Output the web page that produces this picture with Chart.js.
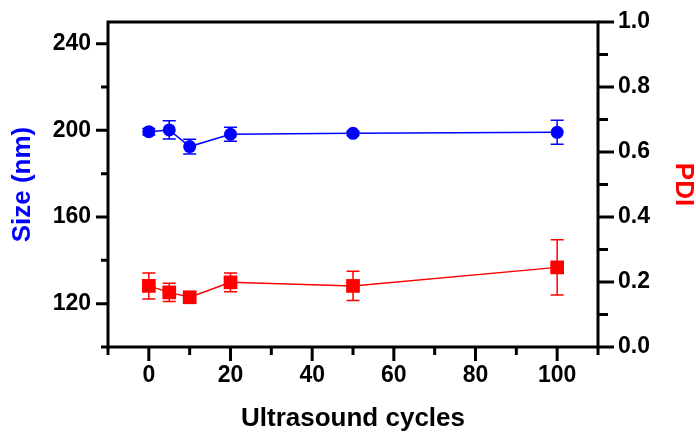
<!DOCTYPE html>
<html>
<head>
<meta charset="utf-8">
<script src="https://cdn.jsdelivr.net/npm/chart.js@4/dist/chart.umd.min.js"></script>
<style>
  html, body { margin: 0; padding: 0; background: #fff; }
  #c { display: block; }
</style>
</head>
<body>
<canvas id="c" width="696" height="434"></canvas>
<script>
// Particle size and PDI after repeated ultrasound cycles (mean ± SD)
const cycles  = [0, 5, 10, 20, 50, 100];
const sizeNm  = [199.4, 200.2, 192.5, 198.2, 198.6, 199.1];
const sizeErr = [1.5, 4.2, 3.4, 3.2, 1.0, 5.5];
const pdi     = [0.188, 0.168, 0.153, 0.199, 0.188, 0.245];
const pdiErr  = [0.040, 0.028, 0.015, 0.029, 0.045, 0.085];

// Axis tick positions (major ticks carry a label)
const xTicks    = [-10, 0, 10, 20, 30, 40, 50, 60, 70, 80, 90, 100, 110];
const xMajor    = [0, 20, 40, 60, 80, 100];
const sizeTicks = [100, 120, 140, 160, 180, 200, 220, 240];
const sizeMajor = [120, 160, 200, 240];
const pdiTicks  = [0, 0.1, 0.2, 0.3, 0.4, 0.5, 0.6, 0.7, 0.8, 0.9, 1.0];
const pdiMajor  = [0, 0.2, 0.4, 0.6, 0.8, 1.0];

const BLUE = '#0000ff';
const RED = '#ff0000';
const FONT = '"Liberation Sans", Arial, Helvetica, sans-serif';

const isIn = (arr, v) => arr.some(a => Math.abs(a - v) < 1e-9);

// Boxed frame with outward major/minor tick marks
const framePlugin = {
  id: 'frame',
  beforeDatasetsDraw(chart) {
    const { ctx, chartArea: a, scales } = chart;
    ctx.save();
    ctx.strokeStyle = '#000';
    ctx.lineWidth = 3;
    ctx.lineCap = 'butt';
    ctx.lineJoin = 'miter';
    ctx.strokeRect(a.left, a.top, a.right - a.left, a.bottom - a.top);
    ctx.beginPath();
    xTicks.forEach(v => {
      const px = scales.x.getPixelForValue(v);
      const len = isIn(xMajor, v) ? 14 : 8;
      ctx.moveTo(px, a.bottom);
      ctx.lineTo(px, a.bottom + len);
    });
    sizeTicks.forEach(v => {
      const py = scales.y.getPixelForValue(v);
      const len = isIn(sizeMajor, v) ? 12 : 7;
      ctx.moveTo(a.left, py);
      ctx.lineTo(a.left - len, py);
    });
    pdiTicks.forEach(v => {
      const py = scales.y1.getPixelForValue(v);
      const len = isIn(pdiMajor, v) ? 16 : 10;
      ctx.moveTo(a.right, py);
      ctx.lineTo(a.right + len, py);
    });
    ctx.stroke();
    ctx.restore();
  }
};

// Vertical error bars with caps, drawn beneath the markers
const errorBarPlugin = {
  id: 'errorBars',
  beforeDatasetsDraw(chart) {
    const { ctx, scales } = chart;
    const sets = [
      { vals: sizeNm, errs: sizeErr, scale: scales.y, color: BLUE },
      { vals: pdi, errs: pdiErr, scale: scales.y1, color: RED }
    ];
    ctx.save();
    ctx.lineWidth = 1.5;
    sets.forEach(s => {
      ctx.strokeStyle = s.color;
      ctx.beginPath();
      cycles.forEach((c, i) => {
        const px = scales.x.getPixelForValue(c);
        const yHi = s.scale.getPixelForValue(s.vals[i] + s.errs[i]);
        const yLo = s.scale.getPixelForValue(s.vals[i] - s.errs[i]);
        ctx.moveTo(px, yHi); ctx.lineTo(px, yLo);
        ctx.moveTo(px - 6.5, yHi); ctx.lineTo(px + 6.5, yHi);
        ctx.moveTo(px - 6.5, yLo); ctx.lineTo(px + 6.5, yLo);
      });
      ctx.stroke();
    });
    ctx.restore();
  }
};

const tickFont = { family: FONT, size: 23, weight: 'bold' };
const titleFont = { family: FONT, size: 26, weight: 'bold', lineHeight: 1 };
const noGrid = { display: false, drawTicks: false, tickLength: 0 };

// Fixed axis band sizes; label overflow padding is dropped so the plot box stays put
const fixWidth = w => s => { s.width = w; s.paddingTop = 0; s.paddingBottom = 0; };

new Chart(document.getElementById('c'), {
  type: 'line',
  data: {
    datasets: [
      {
        label: 'Size (nm)',
        data: cycles.map((x, i) => ({ x, y: sizeNm[i] })),
        yAxisID: 'y',
        borderColor: BLUE,
        backgroundColor: BLUE,
        borderWidth: 1.5,
        pointStyle: 'circle',
        pointRadius: 6.5,
        pointBorderWidth: 0,
        pointBackgroundColor: BLUE,
        tension: 0,
        fill: false
      },
      {
        label: 'PDI',
        data: cycles.map((x, i) => ({ x, y: pdi[i] })),
        yAxisID: 'y1',
        borderColor: RED,
        backgroundColor: RED,
        borderWidth: 1.5,
        pointStyle: 'rect',
        pointRadius: 9.7,
        pointBorderWidth: 0,
        pointBackgroundColor: RED,
        tension: 0,
        fill: false
      }
    ]
  },
  options: {
    responsive: false,
    animation: false,
    devicePixelRatio: 1,
    layout: { padding: { top: 22, left: 0, right: 0, bottom: 0 } },
    plugins: { legend: { display: false }, tooltip: { enabled: false } },
    scales: {
      x: {
        type: 'linear',
        position: 'bottom',
        min: -10,
        max: 110,
        afterBuildTicks: s => { s.ticks = xTicks.map(v => ({ value: v })); },
        afterFit: s => { s.height = 87; s.paddingLeft = 0; s.paddingRight = 0; },
        grid: noGrid,
        border: { display: false },
        ticks: {
          autoSkip: false,
          maxRotation: 0,
          padding: 15,
          color: '#000',
          font: tickFont,
          callback: v => isIn(xMajor, v) ? String(v) : ''
        },
        title: {
          display: true,
          text: 'Ultrasound cycles',
          color: '#000',
          font: titleFont,
          padding: { top: 0, bottom: 2 }
        }
      },
      y: {
        type: 'linear',
        position: 'left',
        min: 100,
        max: 250,
        afterBuildTicks: s => { s.ticks = sizeTicks.map(v => ({ value: v })); },
        afterFit: fixWidth(108),
        grid: noGrid,
        border: { display: false },
        ticks: {
          autoSkip: false,
          padding: 17,
          color: '#000',
          font: tickFont,
          callback: v => isIn(sizeMajor, v) ? String(v) : ''
        },
        title: {
          display: true,
          text: 'Size (nm)',
          color: BLUE,
          font: titleFont,
          padding: { top: 10, bottom: 0 }
        }
      },
      y1: {
        type: 'linear',
        position: 'right',
        min: 0,
        max: 1,
        afterBuildTicks: s => { s.ticks = pdiTicks.map(v => ({ value: v })); },
        afterFit: fixWidth(98),
        grid: noGrid,
        border: { display: false },
        ticks: {
          autoSkip: false,
          padding: 20,
          color: '#000',
          font: tickFont,
          callback: v => isIn(pdiMajor, v) ? v.toFixed(1) : ''
        },
        title: {
          display: true,
          text: 'PDI',
          color: RED,
          font: titleFont,
          padding: { top: 0, bottom: 0 }
        }
      }
    }
  },
  plugins: [framePlugin, errorBarPlugin]
});
</script>
</body>
</html>
